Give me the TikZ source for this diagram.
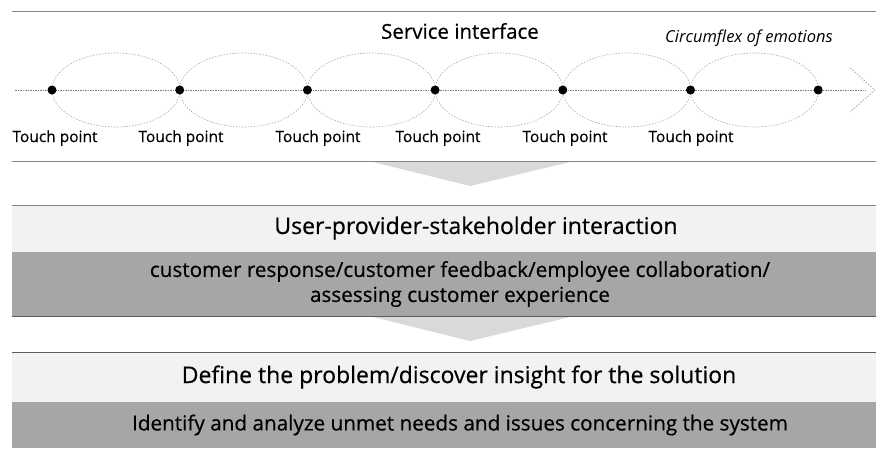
\documentclass[tikz,border=0pt]{standalone}
\usepackage{xcolor}
\usepackage{fontspec}
\setmainfont{Open Sans}[FakeBold=0.45]
\newfontfamily\lightfont{Open Sans}
\usetikzlibrary{positioning}

\definecolor{bandlight}{HTML}{F2F2F2}
\definecolor{banddark}{HTML}{A6A6A6}
\definecolor{chevron}{HTML}{D9D9D9}
\definecolor{rule}{HTML}{858585}
\definecolor{emoline}{HTML}{A8A8A8}

\begin{document}
\begin{tikzpicture}[x=1pt, y=-1pt]

    % Define style for boxes and lines
    \tikzstyle{title} = [inner sep=0pt, font=\fontsize{20.5}{22}\selectfont]
    \tikzstyle{touch} = [inner sep=0pt, font=\fontsize{15.5}{18}\selectfont]
    \tikzstyle{head} = [inner sep=0pt, font=\fontsize{23}{26}\selectfont]
    \tikzstyle{sub} = [inner sep=0pt, align=center, font=\fontsize{20.7}{25}\selectfont]
    \tikzstyle{dot} = [circle, fill=black, inner sep=0pt, minimum size=9pt]
    \tikzstyle{light} = [rectangle, fill=bandlight, inner sep=0pt, anchor=north west, minimum width=864pt]
    \tikzstyle{dark} = [rectangle, fill=banddark, inner sep=0pt, anchor=north west, minimum width=864pt]
    \tikzstyle{emo} = [emoline, line width=0.6pt, dash pattern=on 1.5pt off 1.5pt]
    \tikzstyle{flow} = [emoline!75!black, line width=0.8pt, dash pattern=on 1.5pt off 1pt]

    \useasboundingbox (0,0) rectangle (876,448);

    % Bands
    \node (band1) [light, minimum height=47pt] at (12,205) {};
    \node (band1sub) [dark, minimum height=64pt] at (12,252) {};
    \node (band2) [light, minimum height=50pt] at (12,352) {};
    \node (band2sub) [dark, minimum height=46pt] at (12,402) {};

    % Chevrons
    \fill[chevron] (373,162) -- (570,162) -- (470,186) -- cycle;
    \fill[chevron] (373,317) -- (570,317) -- (470,341) -- cycle;

    % Rules
    \draw[rule, line width=1pt] (12,11) -- (876,11);
    \draw[rule, line width=1pt] (12,161) -- (876,161);
    \draw[rule, line width=1pt] (band1.north west) -- (band1.north east);
    \draw[rule!70!black, line width=1pt] (band1sub.south west) -- (band1sub.south east);
    \draw[rule!70!black, line width=1pt] (band2.north west) -- (band2.north east);

    % Circumflex of emotions
    \coordinate (flowstart) at (15,90);
    \coordinate (flowend) at (866,90);
    \coordinate (arrowtip) at (875,90);
    \foreach \i in {1,...,6}
        \draw[emo] (116+127.7*\i-127.7,90) ellipse [x radius=64, y radius=37];
    \draw[flow] (flowstart) -- (flowend);
    \draw[emo, line width=0.8pt] (850,68) -- (arrowtip) -- (850,112);
    \foreach \i in {1,...,7}
        \node (tp\i) [dot] at (52+127.7*\i-127.7,90) {};

    % Labels
    \node (service) [title] at (460,31) {Service interface};
    \node (emotions) [inner sep=0pt, font=\lightfont\fontsize{16.5}{18}\selectfont\itshape] at (749,38) {Circumflex of emotions};
    \foreach \x [count=\i] in {55,181,318,438,565,691}
        \node (label\i) [touch] at (\x,138) {Touch point};

    \node (interaction) [head] at (476,228) {User-provider-stakeholder interaction};
    \node (feedback) [sub] at (460,284) {customer response/customer feedback/employee collaboration/\\assessing customer experience};
    \node (problem) [head] at (459,377) {Define the problem/discover insight for the solution};
    \node (needs) [sub] at (460,425) {Identify and analyze unmet needs and issues concerning the system};

\end{tikzpicture}
\end{document}
